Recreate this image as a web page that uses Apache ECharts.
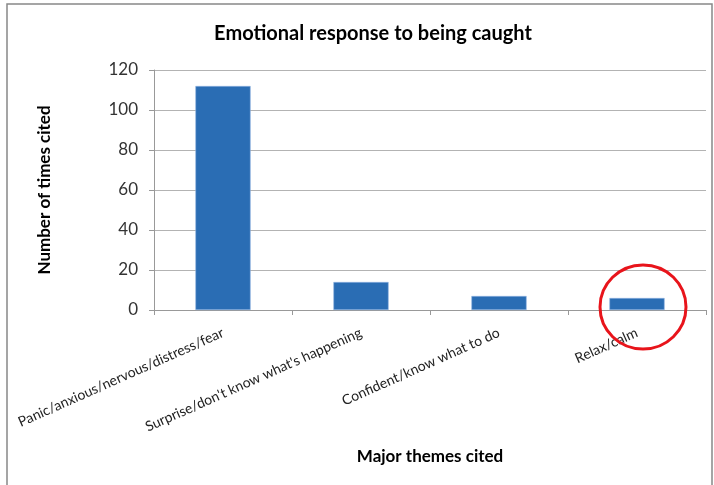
<!DOCTYPE html>
<html><head><meta charset="utf-8">
<script src="https://cdn.jsdelivr.net/npm/echarts@6/dist/echarts.min.js"></script>
<style>html,body{margin:0;padding:0;background:#fff}#c{width:714px;height:485px}</style>
</head><body><div id="c"></div>
<script>
const categories = ["Panic/anxious/nervous/distress/fear","Surprise/don't know what's happening","Confident/know what to do","Relax/calm"];
const values = [112, 14, 7, 6];
const yTicks = [0, 20, 40, 60, 80, 100, 120];
const highlightIndex = 3;

const chart = echarts.init(document.getElementById('c'));
const font = 'Lato, Carlito, "Open Sans", sans-serif';
const frame = {type: 'polyline', shape: {points: [[7, 485], [7, 4], [712, 4], [712, 485]]},
    style: {stroke: '#888', lineWidth: 1.5, fill: null}};
chart.setOption({
  animation: false,
  title: {text: 'Emotional response to being caught', left: 368, textAlign: 'center', top: 19,
    textStyle: {fontFamily: font, fontSize: 20, fontWeight: 'bold', color: '#000'}},
  grid: {left: 154, right: 8, top: 70, bottom: 175},
  xAxis: {type: 'category', data: categories,
    name: 'Major themes cited', nameLocation: 'middle', nameGap: 138,
    nameTextStyle: {fontFamily: font, fontSize: 17, fontWeight: 'bold', color: '#000'},
    axisLine: {lineStyle: {color: '#999'}}, axisTick: {show: true, length: 5, lineStyle: {color: '#999'}},
    axisLabel: {rotate: 24, interval: 0, fontFamily: font, fontSize: 14, color: '#222', margin: 22}},
  yAxis: {type: 'value', min: yTicks[0], max: yTicks[yTicks.length-1], interval: 20,
    name: 'Number of times cited', nameLocation: 'middle', nameGap: 101, nameRotate: 90,
    nameTextStyle: {fontFamily: font, fontSize: 17, fontWeight: 'bold', color: '#000'},
    axisLine: {show: true, lineStyle: {color: '#999'}}, axisTick: {show: true, inside: false, length: 5, lineStyle: {color: '#999'}},
    splitLine: {lineStyle: {color: '#b3b3b3'}},
    axisLabel: {fontFamily: font, fontSize: 17, color: '#333', margin: 16}},
  series: [{type: 'bar', data: values, barWidth: '40%',
    itemStyle: {color: '#2a6db4', borderColor: '#8fb4e0', borderWidth: 0.6}}],
  graphic: [frame]
});
const p = chart.convertToPixel({seriesIndex: 0}, [highlightIndex, 0]);
chart.setOption({graphic: [frame,
  {type: 'ellipse', shape: {cx: p[0] + 6, cy: p[1] - 3, rx: 43, ry: 42},
    style: {stroke: '#e8141b', lineWidth: 3, fill: null}, z: 100}]});
</script></body></html>
